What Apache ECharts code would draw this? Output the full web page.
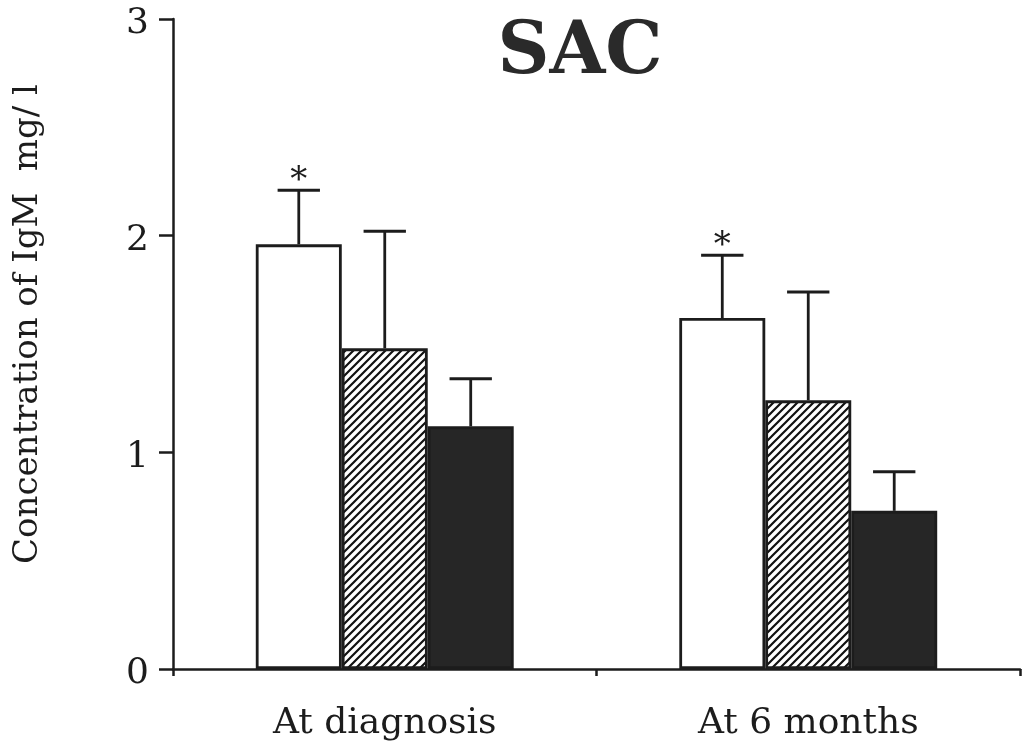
<!DOCTYPE html>
<html>
<head>
<meta charset="utf-8">
<script src="https://cdn.jsdelivr.net/npm/echarts@6/dist/echarts.min.js"></script>
<style>
  html, body { margin: 0; padding: 0; background: #fff; }
  #chart { width: 1029px; height: 747px; }
</style>
</head>
<body>
<div id="chart"></div>
<script>
// IgM concentration (mg/l), mean and SD, for three patient groups at two time points
const categories = ['At diagnosis', 'At 6 months'];
const openMeans = [1.96, 1.62];
const hatchedMeans = [1.48, 1.24];
const solidMeans = [1.12, 0.73];
const openSD = [0.25, 0.29];
const hatchedSD = [0.54, 0.50];
const solidSD = [0.22, 0.18];
const openMarks = ['*', '*'];
const hatchedMarks = ['', ''];
const solidMarks = ['', ''];

const FONT = '"DejaVu Serif", "Liberation Serif", serif';
const INK = '#1c1c1c';
const BAR_FRAC = 0.203; // bar width as a share of the category band

// diagonal hatch tile
function hatchTile() {
  const s = 8;
  const c = document.createElement('canvas');
  c.width = s; c.height = s;
  const g = c.getContext('2d');
  g.fillStyle = '#ffffff';
  g.fillRect(0, 0, s, s);
  g.strokeStyle = '#111111';
  g.lineWidth = 2.2;
  g.beginPath();
  g.moveTo(-1, s + 1); g.lineTo(s + 1, -1);
  g.moveTo(-3, 3); g.lineTo(3, -3);
  g.moveTo(s - 3, s + 3); g.lineTo(s + 3, s - 3);
  g.stroke();
  return c;
}

function barSeries(name, data, fill) {
  return {
    name: name,
    type: 'bar',
    data: data,
    barWidth: (BAR_FRAC * 100) + '%',
    barGap: '0%',
    itemStyle: { color: fill, borderColor: INK, borderWidth: 2.8 },
    emphasis: { disabled: true },
    z: 2
  };
}

function errorSeries(means, sds, marks, slot) {
  return {
    type: 'custom',
    data: means.map((m, i) => [i, m, sds[i]]),
    encode: { x: 0, y: 1 },
    z: 3,
    silent: true,
    renderItem: function (params, api) {
      const idx = api.value(0);
      const mean = api.value(1);
      const sd = api.value(2);
      const mark = marks[idx];
      const band = api.size([1, 0])[0];
      const off = (slot - 1) * band * BAR_FRAC;
      const base = api.coord([idx, mean]);
      const top = api.coord([idx, mean + sd]);
      const x = base[0] + off;
      const half = band * 0.05;
      const children = [
        { type: 'line', shape: { x1: x, y1: base[1], x2: x, y2: top[1] },
          style: { stroke: INK, lineWidth: 2.8 } },
        { type: 'line', shape: { x1: x - half, y1: top[1], x2: x + half, y2: top[1] },
          style: { stroke: INK, lineWidth: 3 } }
      ];
      if (mark) {
        children.push({ type: 'text', x: x, y: top[1] + 8,
          style: { text: mark, fill: INK, font: '34px ' + FONT,
                   align: 'center', verticalAlign: 'bottom' } });
      }
      return { type: 'group', children: children };
    }
  };
}

const chart = echarts.init(document.getElementById('chart'), null, { renderer: 'canvas' });
chart.setOption({
  animation: false,
  backgroundColor: '#ffffff',
  title: {
    text: 'SAC',
    left: 575,
    top: 13,
    textAlign: 'center',
    textStyle: { fontFamily: FONT, fontWeight: 'bold', fontSize: 72, color: '#2a2a2a' }
  },
  grid: { left: 173, right: 9, top: 19, bottom: 78, containLabel: false },
  xAxis: {
    type: 'category',
    data: categories,
    boundaryGap: true,
    axisLine: { lineStyle: { color: INK, width: 2.5 } },
    axisTick: { show: true, length: 7, lineStyle: { color: INK, width: 2.5 } },
    axisLabel: { color: INK, fontFamily: FONT, fontSize: 36, margin: 37 },
    splitLine: { show: false }
  },
  yAxis: {
    type: 'value',
    min: 0, max: 3, interval: 1,
    name: 'Concentration of IgM  mg/ l',
    nameLocation: 'middle',
    nameRotate: 90,
    nameGap: 128,
    nameTextStyle: { color: INK, fontFamily: FONT, fontSize: 34, padding: [0, 0, 0, 40] },
    axisLine: { show: true, lineStyle: { color: INK, width: 2.5 } },
    axisTick: { show: true, length: 14, lineStyle: { color: INK, width: 2.5 } },
    axisLabel: {
      margin: 24,
      formatter: '{v|{value}}',
      rich: { v: { color: INK, fontFamily: FONT, fontSize: 36, padding: [10, 0, 0, 0] } }
    },
    splitLine: { show: false }
  },
  series: [
    barSeries('open', openMeans, '#ffffff'),
    barSeries('hatched', hatchedMeans, { image: hatchTile(), repeat: 'repeat' }),
    barSeries('solid', solidMeans, '#262626'),
    errorSeries(openMeans, openSD, openMarks, 0),
    errorSeries(hatchedMeans, hatchedSD, hatchedMarks, 1),
    errorSeries(solidMeans, solidSD, solidMarks, 2)
  ]
});
</script>
</body>
</html>
